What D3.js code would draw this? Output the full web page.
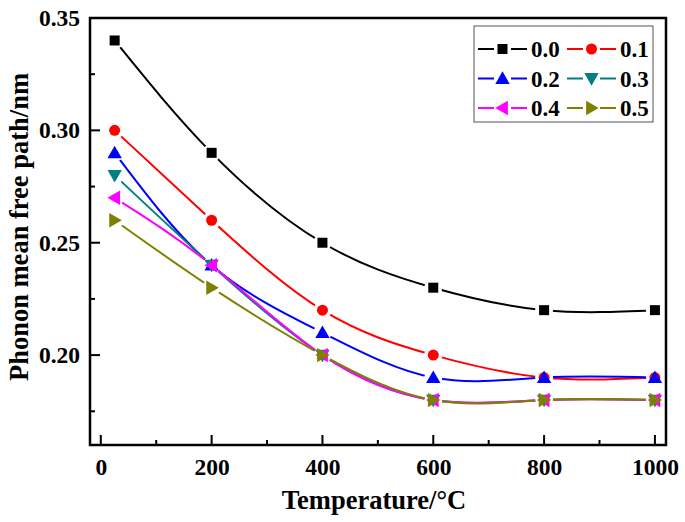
<!DOCTYPE html>
<html><head><meta charset="utf-8">
<script src="https://cdn.jsdelivr.net/npm/d3@7"></script>
<style>body{margin:0;background:#fff}svg{display:block}</style>
</head><body>
<svg id="c" width="685" height="522"></svg>
<script>
const temperatures = [25, 200, 400, 600, 800, 1000];
const seriesNames = ["0.0", "0.1", "0.2", "0.3", "0.4", "0.5"];
const s00 = [0.34, 0.29, 0.25, 0.23, 0.22, 0.22];
const s01 = [0.30, 0.26, 0.22, 0.20, 0.19, 0.19];
const s02 = [0.29, 0.24, 0.21, 0.19, 0.19, 0.19];
const s03 = [0.28, 0.24, 0.20, 0.18, 0.18, 0.18];
const s04 = [0.27, 0.24, 0.20, 0.18, 0.18, 0.18];
const s05 = [0.26, 0.23, 0.20, 0.18, 0.18, 0.18];
const xTicks = [0, 200, 400, 600, 800, 1000];
const yTicks = [0.20, 0.25, 0.30, 0.35];
const colors = ["#000000", "#ff0000", "#0000ff", "#008080", "#ff00ff", "#808000"];
const shapes = ["square", "circle", "up", "down", "left", "right"];
const seriesValues = [s00, s01, s02, s03, s04, s05];

const svg = d3.select("#c");
const L = 90, R = 666, T = 18, B = 445;
const x = d3.scaleLinear().domain([-19.5, 1020]).range([L, R]);
const y = d3.scaleLinear().domain([0.16, 0.35]).range([B, T]);
const font = "'Liberation Serif', 'Times New Roman', serif";

function markerPath(shape, s) {
  switch (shape) {
    case "square": return `M${-s/2},${-s/2}h${s}v${s}h${-s}Z`;
    case "circle": { const r = s/2; return `M${-r},0a${r},${r} 0 1,0 ${2*r},0a${r},${r} 0 1,0 ${-2*r},0Z`; }
    case "up": return `M0,${-s*0.6}L${s*0.6},${s*0.45}L${-s*0.6},${s*0.45}Z`;
    case "down": return `M0,${s*0.6}L${s*0.6},${-s*0.45}L${-s*0.6},${-s*0.45}Z`;
    case "left": return `M${-s*0.6},0L${s*0.45},${-s*0.6}L${s*0.45},${s*0.6}Z`;
    case "right": return `M${s*0.6},0L${-s*0.45},${-s*0.6}L${-s*0.45},${s*0.6}Z`;
  }
}
const msize = [10, 11, 12, 12, 12, 12];

const defs = svg.append("defs");
const line = d3.line().x(d => x(d[0])).y(d => y(d[1])).curve(d3.curveNatural);

seriesValues.forEach((vals, i) => {
  const pts = temperatures.map((t, j) => [t, vals[j]]);
  const m = defs.append("mask").attr("id", "m" + i).attr("maskUnits", "userSpaceOnUse")
    .attr("x", 0).attr("y", 0).attr("width", 685).attr("height", 522);
  m.append("rect").attr("width", 685).attr("height", 522).attr("fill", "#fff");
  pts.forEach(p => m.append("circle").attr("cx", x(p[0])).attr("cy", y(p[1])).attr("r", 9).attr("fill", "#000"));
  svg.append("path").datum(pts).attr("d", line).attr("fill", "none")
    .attr("stroke", colors[i]).attr("stroke-width", 2).attr("mask", `url(#m${i})`);
});
seriesValues.forEach((vals, i) => {
  svg.append("g").selectAll("path").data(temperatures.map((t, j) => [t, vals[j]])).join("path")
    .attr("transform", d => `translate(${x(d[0])},${y(d[1])})`)
    .attr("d", markerPath(shapes[i], msize[i])).attr("fill", colors[i]);
});

// frame
svg.append("rect").attr("x", L).attr("y", T).attr("width", R - L).attr("height", B - T)
  .attr("fill", "none").attr("stroke", "#000").attr("stroke-width", 2.5);

// axes
const xAxis = d3.axisBottom(x).tickValues(xTicks).tickSize(0).tickPadding(13).tickFormat(d3.format("d"));
const gx = svg.append("g").attr("transform", `translate(0,${B})`).call(xAxis);
gx.select(".domain").remove();
gx.selectAll("text").attr("font-family", font).attr("font-weight", "bold").attr("font-size", 23.5).attr("fill", "#000");
const yAxis = d3.axisLeft(y).tickValues(yTicks).tickSize(0).tickPadding(10).tickFormat(d3.format(".2f"));
const gy = svg.append("g").attr("transform", `translate(${L},0)`).call(yAxis);
gy.select(".domain").remove();
gy.selectAll("text").attr("font-family", font).attr("font-weight", "bold").attr("font-size", 23.5).attr("fill", "#000");

// inward ticks
const xMinor = d3.range(0, 1001, 100);
svg.append("g").selectAll("line").data(xMinor).join("line")
  .attr("x1", d => x(d)).attr("x2", d => x(d)).attr("y1", B)
  .attr("y2", d => B - (d % 200 === 0 ? 10 : 5)).attr("stroke", "#000").attr("stroke-width", 2);
const yMinor = [0.175, 0.20, 0.225, 0.25, 0.275, 0.30, 0.325];
svg.append("g").selectAll("line").data(yMinor).join("line")
  .attr("y1", d => y(d)).attr("y2", d => y(d)).attr("x1", L)
  .attr("x2", (d, i) => L + (i % 2 === 1 ? 10 : 5))
  .attr("stroke", "#000").attr("stroke-width", 2);

// axis titles
svg.append("text").attr("x", 374).attr("y", 509).attr("text-anchor", "middle")
  .attr("font-family", font).attr("font-weight", "bold").attr("font-size", 26.5).text("Temperature/°C");
svg.append("text").attr("transform", `translate(27.5,227) rotate(-90)`).attr("text-anchor", "middle")
  .attr("font-family", font).attr("font-weight", "bold").attr("font-size", 26.5).text("Phonon mean free path/nm");

// legend
const lg = svg.append("g");
lg.append("rect").attr("x", 474).attr("y", 26).attr("width", 179).attr("height", 96)
  .attr("fill", "#fff").attr("stroke", "#555").attr("stroke-width", 1);
seriesNames.forEach((name, i) => {
  const col = i % 2, row = Math.floor(i / 2);
  const x0 = col === 0 ? 478 : 567;
  const yy = 49 + row * 29.5;
  lg.append("line").attr("x1", x0).attr("x2", x0 + 49).attr("y1", yy).attr("y2", yy)
    .attr("stroke", colors[i]).attr("stroke-width", 2);
  lg.append("rect").attr("x", x0 + 16).attr("y", yy - 6).attr("width", 17).attr("height", 12).attr("fill", "#fff");
  lg.append("path").attr("transform", `translate(${x0 + 24.5},${yy})`)
    .attr("d", markerPath(shapes[i], msize[i])).attr("fill", colors[i]);
  lg.append("text").attr("x", x0 + 53).attr("y", yy + 8).attr("font-family", font)
    .attr("font-weight", "bold").attr("font-size", 23).text(name);
});
</script>
</body></html>
